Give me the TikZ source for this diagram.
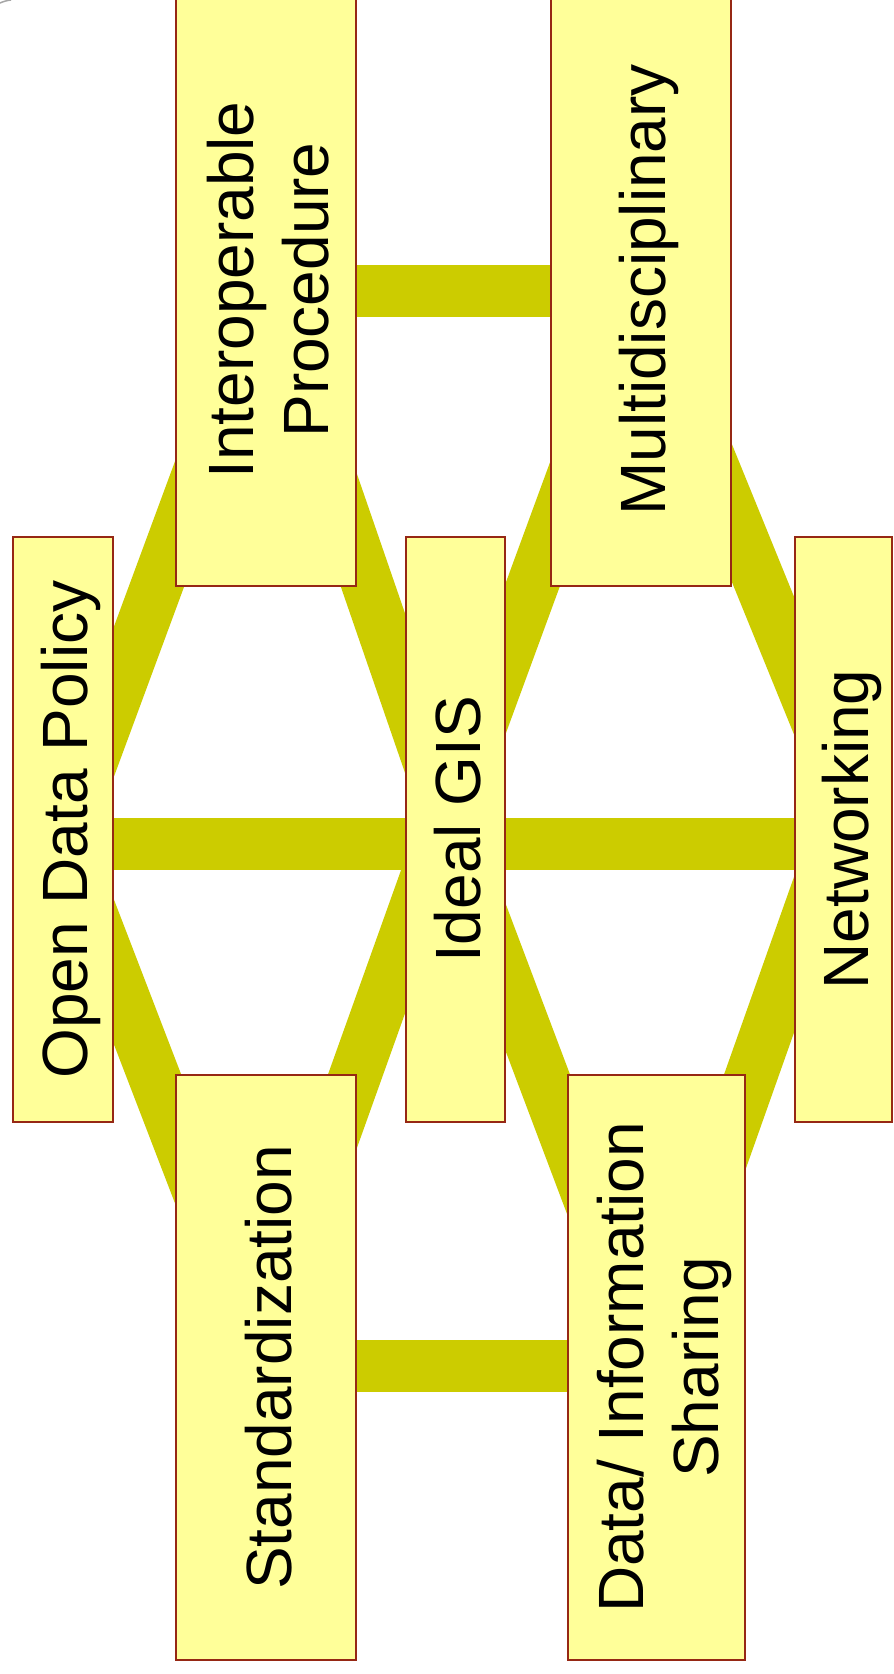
\documentclass[tikz,border=0pt]{standalone}
\usepackage{fontspec}
\setmainfont{Liberation Sans}
\definecolor{bandc}{RGB}{204,204,0}
\definecolor{boxfill}{RGB}{255,255,153}
\definecolor{boxline}{RGB}{150,40,20}
\pgfdeclarelayer{back}
\pgfdeclarelayer{bandlayer}
\pgfsetlayers{back,bandlayer,main}
\newcommand{\onestrut}{\rule[-13pt]{0pt}{76pt}}
\newcommand{\topstrut}{\rule{0pt}{63pt}}
\newcommand{\botstrut}{\rule[-13pt]{0pt}{13pt}}
\begin{document}
\begin{tikzpicture}[x=1pt,y=-1pt,
  box/.style={draw=boxline, line width=1.5pt, fill=boxfill, rotate=90, inner sep=0pt,
    align=center, font=\fontsize{64}{75}\selectfont},
  band/.style={draw=bandc, line width=52pt}]
\useasboundingbox (0,0) rectangle (894,1674);
\begin{pgfonlayer}{back}
\fill[white] (0,0) rectangle (894,1674);
\end{pgfonlayer}
% boxes
\node[box, minimum width=585pt, minimum height=100pt] (odp) at (63,829.5) {\onestrut Open Data Policy};
\node[box, minimum width=592pt, minimum height=180pt] (interop) at (266,290) {\topstrut Interoperable\\Procedure\botstrut};
\node[box, minimum width=585pt, minimum height=180pt] (stand) at (266,1367.5) {\onestrut Standardization};
\node[box, minimum width=585pt, minimum height=99pt] (ideal) at (455.5,829.5) {\onestrut Ideal GIS};
\node[box, minimum width=592pt, minimum height=180pt] (multi) at (641,290) {\onestrut Multidisciplinary};
\node[box, minimum width=585pt, minimum height=177pt] (data) at (656.5,1367.5) {\topstrut Data/ Information\\Sharing\botstrut};
\node[box, minimum width=585pt, minimum height=97pt] (net) at (843.5,829.5) {\onestrut Networking};
% connectors
\begin{pgfonlayer}{bandlayer}
\draw[band] ([yshift=-14.5pt]odp.center) -- ([yshift=-14.5pt]net.center);
\draw[band] ([yshift=-1pt]interop.center) -- ([yshift=-1pt]multi.center);
\draw[band] ([yshift=1.5pt]stand.center) -- ([yshift=1.5pt]data.center);
\draw[band] ([yshift=-10pt]odp.center) -- (interop.center);
\draw[band] ([yshift=-10pt]odp.center) -- (stand.center);
\draw[band] ([yshift=-10pt]ideal.center) -- (interop.center);
\draw[band] ([yshift=34.5pt]ideal.center) -- ([yshift=42.5pt]stand.center);
\draw[band] ([yshift=34.5pt]ideal.center) -- (multi.center);
\draw[band] ([yshift=-15pt]ideal.center) -- ([yshift=-10pt]data.center);
\draw[band] ([yshift=42.5pt]net.center) -- (multi.center);
\draw[band] ([yshift=14.5pt]net.center) -- ([yshift=24.5pt]data.center);
\end{pgfonlayer}
\draw[gray!70, line width=1.5pt] (0,3) to[bend left=8] (11,0);
\end{tikzpicture}
\end{document}
